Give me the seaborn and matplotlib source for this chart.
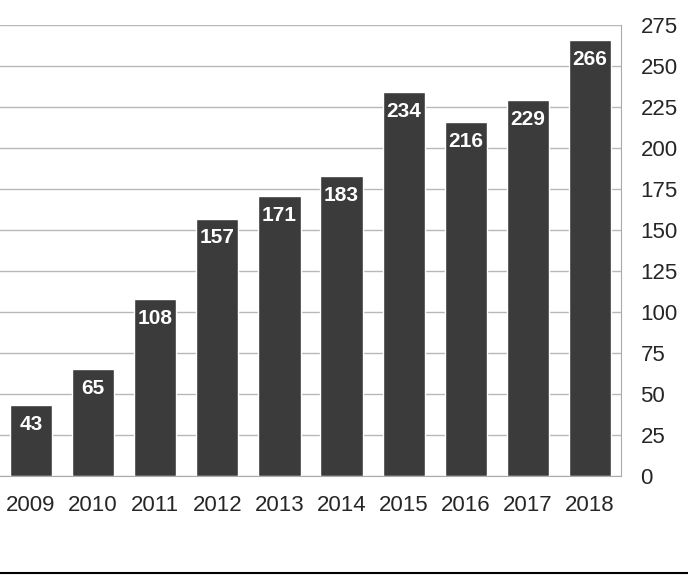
import numpy as np
import pandas as pd
import matplotlib
matplotlib.use("Agg")
import matplotlib.pyplot as plt
from matplotlib.lines import Line2D
import seaborn as sns

years = ["2009", "2010", "2011", "2012", "2013", "2014", "2015", "2016", "2017", "2018"]
counts = [43, 65, 108, 157, 171, 183, 234, 216, 229, 266]
y_ticks = list(range(0, 276, 25))

df = pd.DataFrame({"year": years, "count": counts})

sns.set_style("white")
plt.rcParams["font.family"] = ["Liberation Sans", "DejaVu Sans"]

fig = plt.figure(figsize=(6.88, 5.75), dpi=100)
ax = fig.add_axes([0.0, 0.1722, 0.9026, 0.7843])

ax.yaxis.grid(True, color="#b8b8b8", linewidth=1)
ax.set_axisbelow(True)
sns.barplot(data=df, x="year", y="count", color="#3b3b3b", saturation=1,
            width=0.68, ax=ax, zorder=2)

for i, v in enumerate(counts):
    ax.annotate(str(v), (i, v), xytext=(0, -14), textcoords="offset points",
                ha="center", va="center", color="white", fontsize=15,
                fontweight="bold")

ax.set_xlim(-0.5, 9.5)
ax.set_ylim(0, 275)
ax.set_yticks(y_ticks)
ax.yaxis.tick_right()
ax.tick_params(axis="y", length=0, labelsize=16, pad=14)
ax.set_xticks(range(len(years)))
ax.set_xticklabels(years)
ax.tick_params(axis="x", length=0, labelsize=16, pad=14)
# boundary tick marks between categories
ax.set_xticks(np.arange(-0.5, 10, 1), minor=True)
ax.tick_params(axis="x", which="minor", length=6, color="#999999", width=1)
ax.set_xlabel("")
ax.set_ylabel("")

for s in ["top", "left"]:
    ax.spines[s].set_visible(False)
ax.spines["bottom"].set_color("#aaaaaa")
ax.spines["right"].set_color("#aaaaaa")

fig.add_artist(Line2D([0, 1], [0.003, 0.003], color="black", linewidth=1.5,
                      transform=fig.transFigure))

fig.savefig("out.png", dpi=100)
